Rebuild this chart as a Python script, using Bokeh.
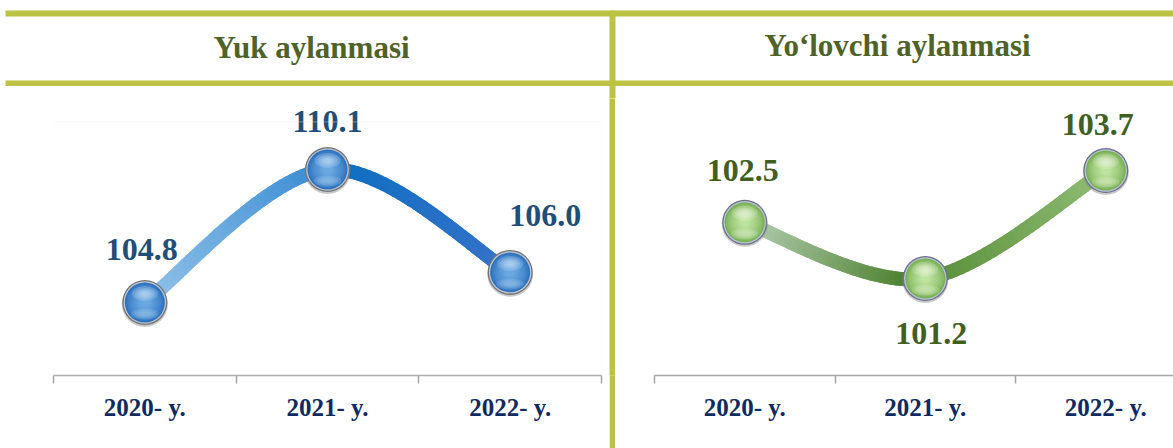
import numpy as np
from bokeh.plotting import figure
from bokeh.layouts import row, column
from bokeh.models import Range1d, FixedTicker, ColumnDataSource, BoxAnnotation
from bokeh.core.properties import value
from bokeh.embed import file_html
from bokeh.resources import INLINE

# ---------------- data ----------------
categories = ["2020- y.", "2021- y.", "2022- y."]
yuk_aylanmasi = [104.8, 110.1, 106.0]
yolovchi_aylanmasi = [102.5, 101.2, 103.7]
panel_titles = ["Yuk aylanmasi", "Yo\u2018lovchi aylanmasi"]

# ---------------- styles ----------------
OLIVE = "#BCC241"
TITLE_COLOR = "#4F6228"
AXIS_LABEL_COLOR = "#0E2A63"
SERIF = "Liberation Serif"

blue_stops = [(0.0, "#93C3EA"), (0.49, "#3A8CD3"), (0.5, "#0A6EC1"), (1.0, "#3672C8")]
green_stops = [(0.0, "#B8D0B6"), (0.49, "#467C26"), (0.5, "#558C35"), (1.0, "#8FBC74")]

blue_ball = dict(rim="#6F7378", silver="#C3C9D0", edge="#2C70BE", center="#6AA8E0",
                 high="#D2E9FA", glow="#A8D0F2")
green_ball = dict(rim="#6C7186", silver="#BCC3DC", edge="#78B055", center="#BDE39E",
                  high="#F4FCEC", glow="#DDF2CC")

blue_label_offsets = [(-3, -53), (0, -48), (35, -57)]
green_label_offsets = [(-2, -52), (6, 55), (-8, -46)]

CHART_H = 350
BOTTOM = 73


def hex2rgb(h):
    h = h.lstrip("#")
    return np.array([int(h[i:i + 2], 16) for i in (0, 2, 4)], dtype=float)


def mix(c0, c1, f):
    c = hex2rgb(c0) * (1 - f) + hex2rgb(c1) * f
    return "#%02x%02x%02x" % tuple(int(round(v)) for v in c)


def color_at(stops, t):
    for (t0, c0), (t1, c1) in zip(stops[:-1], stops[1:]):
        if t <= t1:
            f = 0 if t1 == t0 else (t - t0) / (t1 - t0)
            return mix(c0, c1, min(max(f, 0), 1))
    return stops[-1][1]


def smooth_path(xs, ys, n=40):
    P = np.column_stack([xs, ys]).astype(float)
    m = len(P)
    out = []
    for i in range(m - 1):
        p0 = P[max(i - 1, 0)]
        p1 = P[i]
        p2 = P[i + 1]
        p3 = P[min(i + 2, m - 1)]
        c1 = p1 + (p2 - p0) / 6.0
        c2 = p2 - (p3 - p1) / 6.0
        t = np.linspace(0, 1, n, endpoint=(i == m - 2))[:, None]
        b = ((1 - t) ** 3) * p1 + 3 * ((1 - t) ** 2) * t * c1 + 3 * (1 - t) * t ** 2 * c2 + t ** 3 * p2
        out.append(b)
    return np.vstack(out)


def draw_balls(p, xs, ys, px_per_unit, st):
    ys = np.asarray(ys, dtype=float)
    p.scatter(xs, ys - 1.5 / px_per_unit, size=46, fill_color="#8A8A8A", fill_alpha=0.45, line_color=None)
    p.scatter(xs, ys, size=45, fill_color=st["rim"], line_color=None)
    p.scatter(xs, ys, size=42.5, fill_color=st["silver"], line_color=None)
    n = 14
    for i in range(n):
        f = i / (n - 1)
        size = 40 - f * 32
        p.scatter(xs, ys, size=size, fill_color=mix(st["edge"], st["center"], f ** 0.7), line_color=None)
    # soft bottom glow
    for w, h in [(28, 11), (21, 8), (14, 5)]:
        p.ellipse(xs, ys - 11.5 / px_per_unit, width=w, height=h, width_units="screen",
                  height_units="screen", fill_color=st["glow"], fill_alpha=0.22, line_color=None)
    # soft top highlight
    for w, h in [(26, 15), (20, 11), (14, 8), (8, 5)]:
        p.ellipse(xs, ys + 9.0 / px_per_unit, width=w, height=h, width_units="screen",
                  height_units="screen", fill_color=st["high"], fill_alpha=0.22, line_color=None)


def make_chart(vals, width, b_left, b_right, x_end, y_rng, stops, ball, label_color, offsets, box_top):
    xs = [i + 1 for i in range(len(categories))]
    p = figure(width=width, height=CHART_H, x_range=Range1d(0.5, x_end), y_range=Range1d(*y_rng),
               output_backend="svg", toolbar_location=None, y_axis_location=None,
               min_border_left=b_left, min_border_right=b_right,
               min_border_top=0, min_border_bottom=BOTTOM)
    p.grid.visible = False
    p.outline_line_color = None
    p.background_fill_color = "white"
    p.border_fill_color = "white"
    if box_top is not None:
        p.add_layout(BoxAnnotation(top=box_top, fill_alpha=0, line_color="#EFEFEF", line_width=1.2))

    ax = p.xaxis[0]
    ax.ticker = FixedTicker(ticks=xs, minor_ticks=[x - 0.5 for x in xs] + [xs[-1] + 0.5])
    ax.major_label_overrides = {x: c for x, c in zip(xs, categories)}
    ax.major_tick_line_color = None
    ax.major_tick_out = 0
    ax.major_tick_in = 0
    ax.minor_tick_line_color = "#A6A6A6"
    ax.minor_tick_line_width = 1.5
    ax.minor_tick_out = 8
    ax.minor_tick_in = 0
    ax.axis_line_color = "#A6A6A6"
    ax.axis_line_width = 1.5
    ax.major_label_text_font = SERIF
    ax.major_label_text_font_style = "bold"
    ax.major_label_text_font_size = "25px"
    ax.major_label_text_color = AXIS_LABEL_COLOR
    ax.major_label_standoff = 10

    # gradient smooth line
    path = smooth_path(xs, vals)
    x0s, y0s = path[:-1, 0], path[:-1, 1]
    x1s, y1s = path[1:, 0], path[1:, 1]
    tmid = ((x0s + x1s) / 2 - xs[0]) / (xs[-1] - xs[0])
    cols = [color_at(stops, t) for t in tmid]
    p.segment(x0=x0s, y0=y0s, x1=x1s, y1=y1s, line_color=cols, line_width=14, line_cap="round")

    k = (CHART_H - BOTTOM) / (y_rng[1] - y_rng[0])
    draw_balls(p, xs, vals, k, ball)

    src = ColumnDataSource(dict(x=xs, y=vals, text=["%.1f" % v for v in vals],
                                dx=[o[0] for o in offsets], dy=[o[1] for o in offsets]))
    p.text(x="x", y="y", text="text", x_offset="dx", y_offset="dy", source=src,
           text_font=value(SERIF), text_font_style="bold", text_font_size="32px",
           text_color=label_color, text_align="center", text_baseline="middle")
    return p


# ---------------- header ----------------
header = figure(width=1173, height=98, x_range=Range1d(0, 1173), y_range=Range1d(98, 0),
                output_backend="svg", toolbar_location=None,
                x_axis_location=None, y_axis_location=None, min_border=0)
header.grid.visible = False
header.outline_line_color = None
header.background_fill_color = "white"
header.border_fill_color = "white"
header.quad(left=5, right=1173, top=10, bottom=16, fill_color=OLIVE, line_color=None)
header.quad(left=5, right=1173, top=80, bottom=85.5, fill_color=OLIVE, line_color=None)
header.quad(left=609, right=615, top=10, bottom=98, fill_color=OLIVE, line_color=None)
header.text(x=[311, 897], y=[47, 45], text=panel_titles, text_font=value(SERIF),
            text_font_style="bold", text_font_size="31px", text_color=TITLE_COLOR,
            text_align="center", text_baseline="middle")

# ---------------- charts ----------------
chart_left = make_chart(yuk_aylanmasi, 609, 53, 8, 3.5, (101.89, 112.93), blue_stops, blue_ball,
                        "#1F4E79", blue_label_offsets, 112.0)
chart_right = make_chart(yolovchi_aylanmasi, 558, 39, 0, 3.375, (98.955, 105.367), green_stops,
                         green_ball, "#41601F", green_label_offsets, None)

divider = figure(width=6, height=CHART_H, x_range=Range1d(0, 1), y_range=Range1d(0, 1),
                 output_backend="svg", toolbar_location=None,
                 x_axis_location=None, y_axis_location=None, min_border=0)
divider.grid.visible = False
divider.outline_line_color = None
divider.background_fill_color = OLIVE
divider.border_fill_color = OLIVE

layout = column(header, row(chart_left, divider, chart_right))

open("out.html", "w").write(file_html(layout, INLINE))
